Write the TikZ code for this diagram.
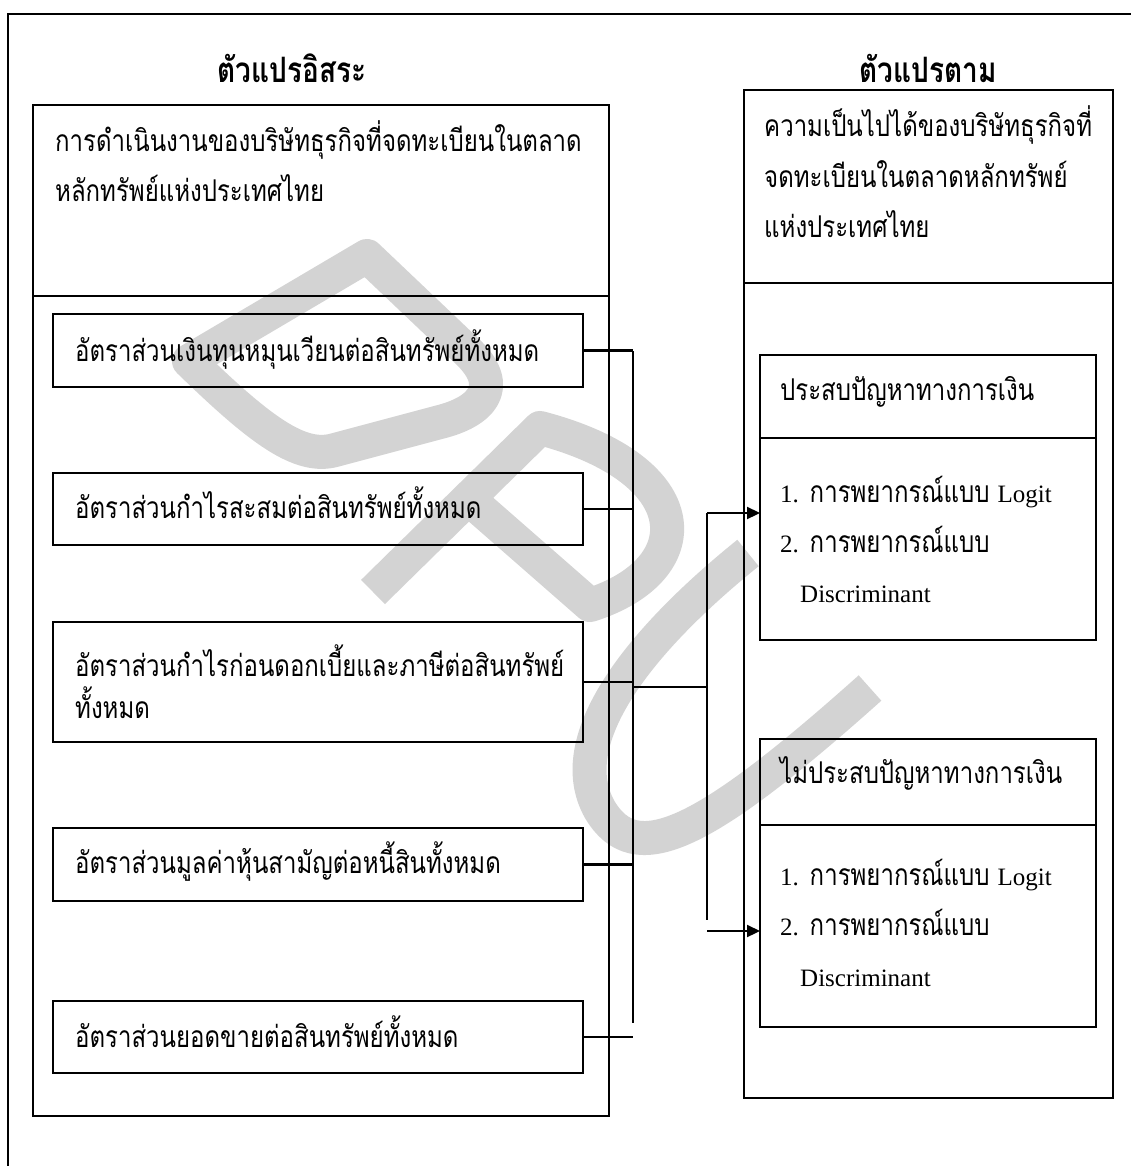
\documentclass[tikz,border=0pt]{standalone}
\usepackage{fontspec}
\setmainfont{Liberation Serif}
\newfontfamily\thai[Script=Thai,FakeStretch=0.8]{Loma}
\newfontfamily\latf{Liberation Serif}
\usetikzlibrary{arrows.meta}
\definecolor{wm}{RGB}{211,211,211}
\newcommand\bodysz{\fontsize{30}{36}\selectfont}
\newcommand\lat{\latf\fontsize{25}{30}\selectfont}
\tikzset{
  ln/.style={line width=2.2pt},
  box/.style={draw, line width=2.2pt, inner sep=0pt, outer sep=0pt},
  tx/.style={inner sep=0pt, anchor=base west, font=\thai\bodysz},
  ttl/.style={inner sep=0pt, anchor=base, font=\thai\bfseries\fontsize{35}{40}\selectfont},
  arr/.style={line width=2.2pt, -{Triangle[length=13pt,width=12pt]}},
  wmk/.style={draw=wm, line width=34pt, line join=round}
}
\begin{document}
\begin{tikzpicture}[x=1pt,y=-1pt]
\useasboundingbox (0,0) rectangle (1131,1166);
% watermark
\draw[wmk] (189,361) -- (367,256) -- (468,352) .. controls (505,388) and (480,412) .. (440,422) -- (335,450) .. controls (300,460) and (260,430) .. cycle;
\draw[wmk] (373,592) -- (540,428) .. controls (700,470) and (700,570) .. (590,605) -- (470,500);
\draw[wmk] (748,553) .. controls (640,640) and (560,740) .. (600,810) .. controls (635,868) and (700,840) .. (870,688);
% frame
\draw[ln] (8,1166) -- (8,14) -- (1131,14);
% titles
\node[ttl] (t1) at (292,83) {ตัวแปรอิสระ};
\node[ttl] (t2) at (928,83) {ตัวแปรตาม};
% left big box
\node[box, minimum width=576pt, minimum height=1011pt] (L) at (321,610.5) {};
\coordinate (Ldiv) at (0,296);
\draw[ln] (L.west |- Ldiv) -- (L.east |- Ldiv);
\node[tx] (h1) at (55,152) {การดำเนินงานของบริษัทธุรกิจที่จดทะเบียนในตลาด};
\node[tx] (h2) at (55,202) {หลักทรัพย์แห่งประเทศไทย};
% inner boxes
\node[box, minimum width=530pt, minimum height=73pt] (r1) at (318,350.5) {};
\node[box, minimum width=530pt, minimum height=72pt] (r2) at (318,509) {};
\node[box, minimum width=530pt, minimum height=120pt] (r3) at (318,682) {};
\node[box, minimum width=530pt, minimum height=73pt] (r4) at (318,864.5) {};
\node[box, minimum width=530pt, minimum height=72pt] (r5) at (318,1037) {};
\node[tx] (x1) at (75,361) {อัตราส่วนเงินทุนหมุนเวียนต่อสินทรัพย์ทั้งหมด};
\node[tx] (x2) at (75,518) {อัตราส่วนกำไรสะสมต่อสินทรัพย์ทั้งหมด};
\node[tx] (x3a) at (75,676) {อัตราส่วนกำไรก่อนดอกเบี้ยและภาษีต่อสินทรัพย์};
\node[tx] (x3b) at (75,718) {ทั้งหมด};
\node[tx] (x4) at (75,873) {อัตราส่วนมูลค่าหุ้นสามัญต่อหนี้สินทั้งหมด};
\node[tx] (x5) at (75,1047) {อัตราส่วนยอดขายต่อสินทรัพย์ทั้งหมด};
% right big box
\node[box, minimum width=369pt, minimum height=1008pt] (R) at (928.5,594) {};
\coordinate (Rdiv) at (0,283);
\draw[ln] (R.west |- Rdiv) -- (R.east |- Rdiv);
\node[tx] (k1) at (764,137) {ความเป็นไปได้ของบริษัทธุรกิจที่};
\node[tx] (k2) at (764,188) {จดทะเบียนในตลาดหลักทรัพย์};
\node[tx] (k3) at (764,238) {แห่งประเทศไทย};
% sub boxes
\node[box, minimum width=336pt, minimum height=285pt] (S1) at (928,497.5) {};
\coordinate (S1div) at (0,438);
\draw[ln] (S1.west |- S1div) -- (S1.east |- S1div);
\node[tx] (p0) at (780,400) {ประสบปัญหาทางการเงิน};
\node[tx] (p1) at (780,502) {{\lat 1.} การพยากรณ์แบบ {\lat Logit}};
\node[tx] (p2) at (780,552) {{\lat 2.} การพยากรณ์แบบ};
\node[tx, font=\lat] (p3) at (800,602) {Discriminant};
\node[box, minimum width=336pt, minimum height=288pt] (S2) at (928,883) {};
\coordinate (S2div) at (0,825);
\draw[ln] (S2.west |- S2div) -- (S2.east |- S2div);
\node[tx] (n0) at (780,783) {ไม่ประสบปัญหาทางการเงิน};
\node[tx] (n1) at (780,885) {{\lat 1.} การพยากรณ์แบบ {\lat Logit}};
\node[tx] (n2) at (780,935) {{\lat 2.} การพยากรณ์แบบ};
\node[tx, font=\lat] (n3) at (800,986) {Discriminant};
% connectors
\coordinate (bus) at (633,351);
\coordinate (busEnd) at (633,1023);
\coordinate (join) at (633,687);
\coordinate (bus2) at (707,513);
\coordinate (bus2End) at (707,920);
\coordinate (low) at (707,931);
\draw[ln] (r1.east) -- (r1.east -| bus);
\draw[ln] (r2.east) -- (r2.east -| bus);
\draw[ln] (r3.east) -- (r3.east -| bus);
\draw[ln] (r4.east) -- (r4.east -| bus);
\draw[ln] (r5.east) -- (r5.east -| bus);
\draw[ln] (bus) -- (busEnd);
\draw[ln] (join) -- (join -| bus2);
\draw[ln] (bus2) -- (bus2End);
\draw[arr] (bus2) -- (bus2 -| S1.west);
\draw[arr] (low) -- (low -| S2.west);
\end{tikzpicture}
\end{document}
